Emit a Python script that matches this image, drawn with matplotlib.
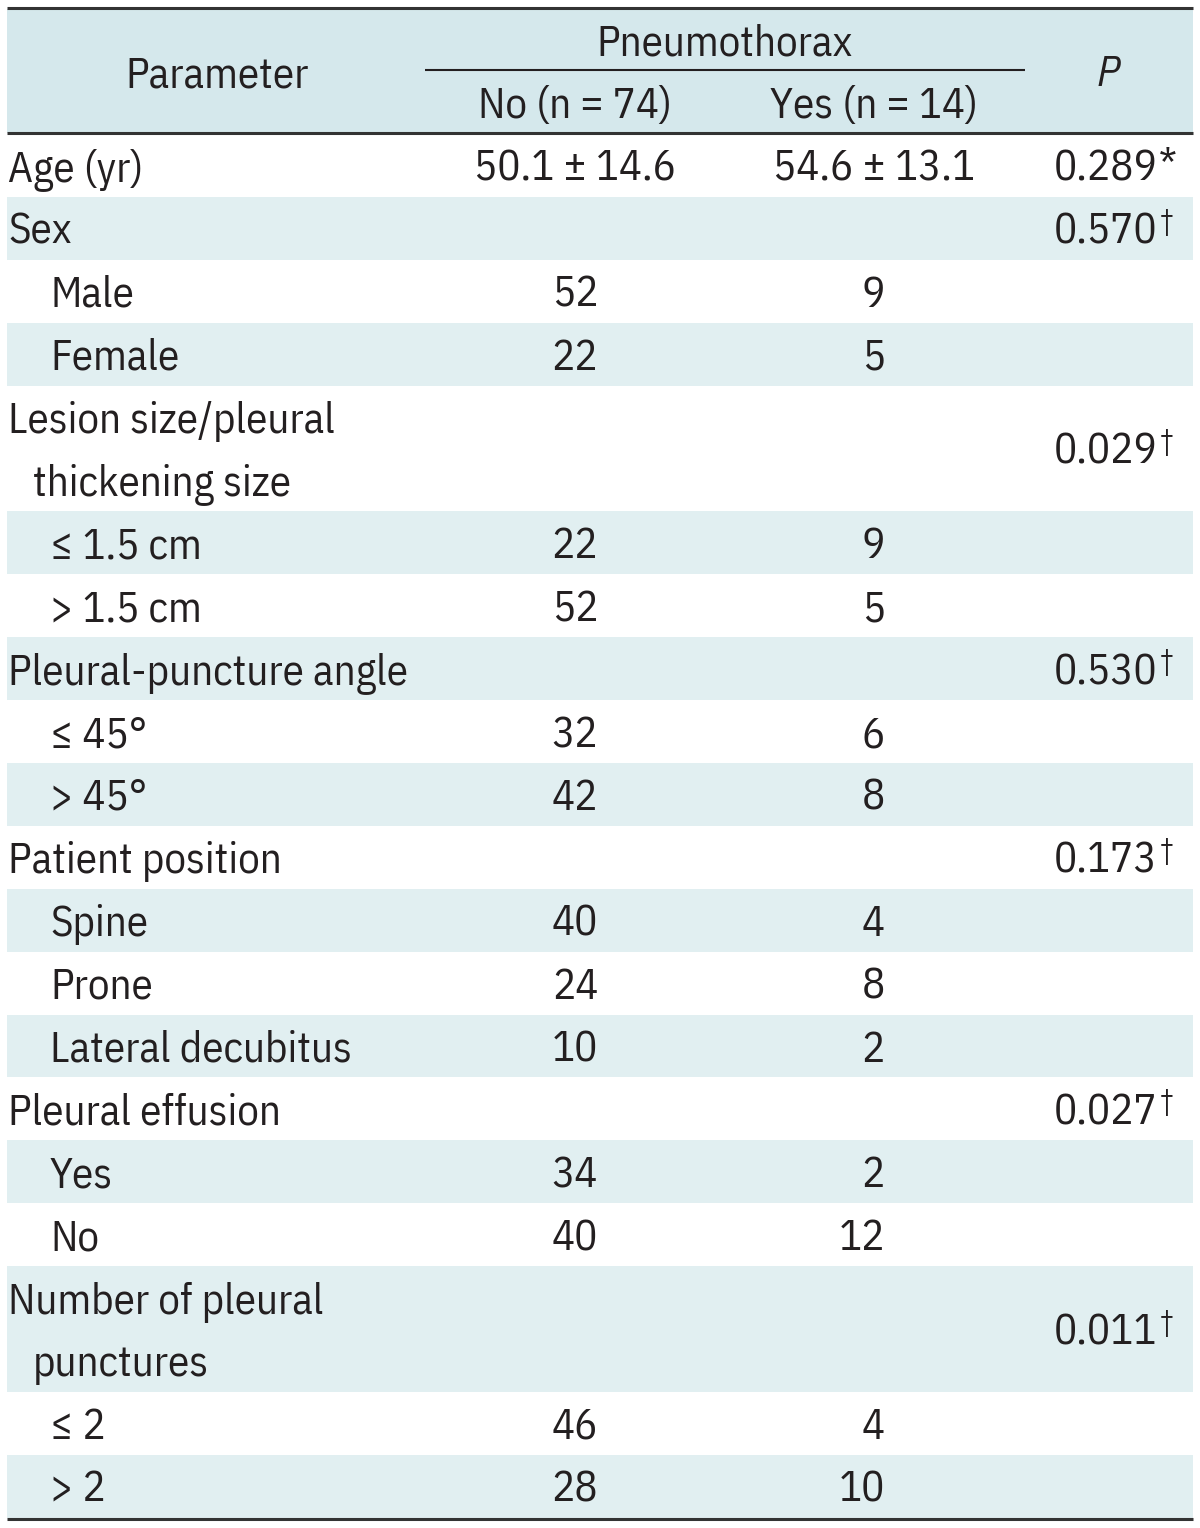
import matplotlib
matplotlib.use("Agg")
import matplotlib.pyplot as plt
from matplotlib.patches import Rectangle
from matplotlib import font_manager as fm

_avail = {f.name for f in fm.fontManager.ttflist}
_main = next((n for n in ['IBM Plex Sans Condensed', 'PT Sans Narrow', 'Roboto Condensed', 'DejaVu Sans'] if n in _avail), 'DejaVu Sans')
FONT = [_main, 'DejaVu Sans']
plt.rcParams['font.family'] = FONT

# ---- data ----
labels = ["Age (yr)", "Sex", "Male", "Female",
          "Lesion size/pleural\n thickening size", "\u2264 1.5 cm", "> 1.5 cm",
          "Pleural-puncture angle", "\u2264 45\u00b0", "> 45\u00b0",
          "Patient position", "Spine", "Prone", "Lateral decubitus",
          "Pleural effusion", "Yes", "No",
          "Number of pleural\n punctures", "\u2264 2", "> 2"]
indent = [0, 0, 1, 1, 0, 1, 1, 0, 1, 1, 0, 1, 1, 1, 0, 1, 1, 0, 1, 1]
no_vals = ["50.1 \u00b1 14.6", "", "52", "22", "", "22", "52", "", "32", "42",
           "", "40", "24", "10", "", "34", "40", "", "46", "28"]
yes_vals = ["54.6 \u00b1 13.1", "", "9", "5", "", "9", "5", "", "6", "8",
            "", "4", "8", "2", "", "2", "12", "", "4", "10"]
p_vals = ["0.289", "0.570", "", "", "0.029", "", "", "0.530", "", "",
          "0.173", "", "", "", "0.027", "", "", "0.011", "", ""]
p_marks = ["*", "\u2020", "", "", "\u2020", "", "", "\u2020", "", "",
           "\u2020", "", "", "", "\u2020", "", "", "\u2020", "", ""]
header_group = "Pneumothorax"
header_cols = ["Parameter", "No (n = 74)", "Yes (n = 14)", "P"]

# ---- layout ----
W, H = 1200, 1528
fig = plt.figure(figsize=(W / 100, H / 100), dpi=100)
ax = fig.add_axes([0, 0, 1, 1])
ax.set_xlim(0, W)
ax.set_ylim(H, 0)
ax.axis('off')
renderer = fig.canvas.get_renderer()

X0, X1 = 7, 1193
HDR_TOP, HDR_BOT = 9, 133
ROW_H = 62.9
HEADER_BG = "#d5e8ec"
ROW_BG = "#e1eff1"
TXT = "#231f20"
FS = 31
BL = 15.5  # baseline offset below row centre

ax.add_patch(Rectangle((X0, HDR_TOP), X1 - X0, HDR_BOT - HDR_TOP, color=HEADER_BG, lw=0))
ax.plot([X0, X1], [HDR_TOP - 1, HDR_TOP - 1], color="#333333", lw=2.2, solid_capstyle='butt')
ax.plot([X0, X1], [HDR_BOT, HDR_BOT], color="#333333", lw=2.2, solid_capstyle='butt')
ax.plot([425, 1025], [70, 70], color=TXT, lw=1.5, solid_capstyle='butt')

ax.text(217, 87, header_cols[0], ha='center', va='baseline', fontsize=FS, color=TXT)
ax.text(725, 55, header_group, ha='center', va='baseline', fontsize=FS, color=TXT)
ax.text(575, 118, header_cols[1], ha='center', va='baseline', fontsize=FS, color=TXT)
ax.text(874, 118, header_cols[2], ha='center', va='baseline', fontsize=FS, color=TXT)
ax.text(1108, 86, header_cols[3], ha='center', va='baseline', fontsize=FS, color=TXT, style='italic')

y = HDR_BOT + 1
for i, lab in enumerate(labels):
    nlines = lab.count("\n") + 1
    h = ROW_H * nlines
    if i % 2 == 1:
        ax.add_patch(Rectangle((X0, y), X1 - X0, h, color=ROW_BG, lw=0))
    cy = y + h / 2
    yb = cy + BL
    if nlines == 1:
        xl = 50 if indent[i] else 8
        ax.text(xl, yb, lab, ha='left', va='baseline', fontsize=FS, color=TXT)
    else:
        parts = lab.split("\n")
        ax.text(8, yb - 31, parts[0], ha='left', va='baseline', fontsize=FS, color=TXT)
        ax.text(33, yb + 31, parts[1].strip(), ha='left', va='baseline', fontsize=FS, color=TXT)
    if no_vals[i]:
        ax.text(575, yb, no_vals[i], ha='center', va='baseline', fontsize=FS, color=TXT)
    if yes_vals[i]:
        if "\u00b1" in yes_vals[i]:
            ax.text(874, yb, yes_vals[i], ha='center', va='baseline', fontsize=FS, color=TXT)
        else:
            ax.text(885, yb, yes_vals[i], ha='right', va='baseline', fontsize=FS, color=TXT)
    if p_vals[i]:
        t = ax.text(1054, yb, p_vals[i], ha='left', va='baseline', fontsize=FS, color=TXT)
        bb = t.get_window_extent(renderer)
        xr = bb.x1 + 1  # display px == data px here
        if p_marks[i] == "*":
            ax.text(xr, yb - 3, "*", ha='left', va='baseline', fontsize=FS, color=TXT)
        else:
            ax.text(xr + 1, yb - 14, p_marks[i], ha='left', va='baseline', fontsize=20, color=TXT)
    y += h

ax.plot([X0, X1], [y + 1, y + 1], color="#333333", lw=2.2, solid_capstyle='butt')

fig.savefig("out.png", dpi=100)
